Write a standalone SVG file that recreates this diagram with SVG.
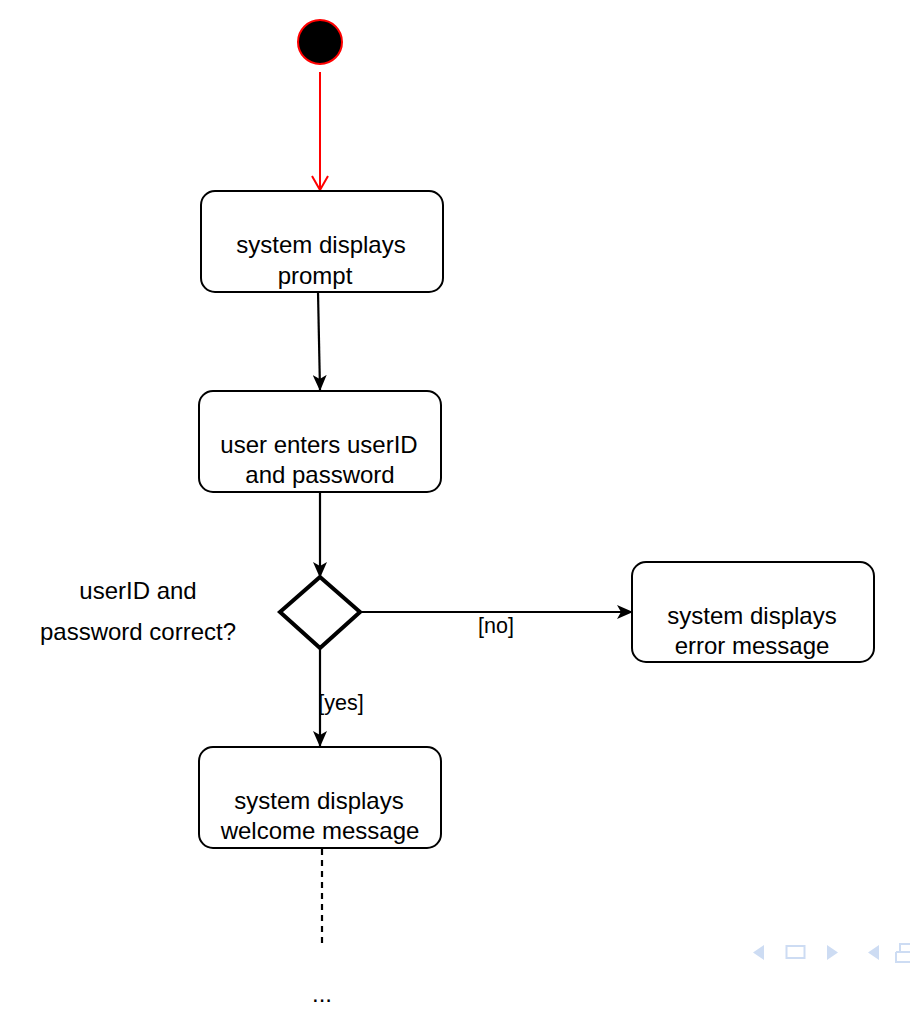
<svg xmlns="http://www.w3.org/2000/svg" width="910" height="1020" viewBox="0 0 910 1020">
<style>
.box{fill:#fff;stroke:#000;stroke-width:2}
.t{font-family:"Liberation Sans",Arial,sans-serif;font-size:24px;fill:#000;text-anchor:middle}
.lbl{font-family:"Liberation Sans",Arial,sans-serif;font-size:21.5px;fill:#000;text-anchor:middle}
.edge{fill:none;stroke:#000;stroke-width:2.2}
.nav{fill:#cddcf3;stroke:none}
</style>
<defs>
<marker id="arr" viewBox="0 0 16 14" refX="15" refY="7" markerWidth="16" markerHeight="14" markerUnits="userSpaceOnUse" orient="auto">
<path d="M0,0 L16,7 L0,14 L4,7 Z" fill="#000"/>
</marker>
<marker id="open" viewBox="0 0 16 20" refX="15" refY="10" markerWidth="16" markerHeight="20" markerUnits="userSpaceOnUse" orient="auto">
<path d="M1,2 L15,10 L1,18" fill="none" stroke="#f00" stroke-width="2"/>
</marker>
</defs>
<rect width="910" height="1020" fill="#fff"/>
<g id="connectors">
<line x1="320" y1="72" x2="320" y2="190" stroke="#f00" stroke-width="2" marker-end="url(#open)"/>
<line class="edge" x1="318" y1="292" x2="320" y2="390" marker-end="url(#arr)"/>
<line class="edge" x1="320" y1="492" x2="320" y2="577" marker-end="url(#arr)"/>
<line class="edge" x1="360" y1="612" x2="632" y2="612" marker-end="url(#arr)"/>
<text class="lbl" x="496" y="633">[no]</text>
<line class="edge" x1="320" y1="648" x2="320" y2="746" marker-end="url(#arr)"/>
<text class="lbl" x="341" y="710">[yes]</text>
<line class="edge" x1="322" y1="849" x2="322" y2="948" stroke-dasharray="6,5"/>
</g>
<g id="start">
<circle cx="320" cy="42" r="22" fill="#000" stroke="#f00" stroke-width="2"/>
</g>
<g id="prompt">
<rect class="box" x="201" y="191" width="242" height="101" rx="14"/>
<text class="t" x="321" y="253">system displays</text>
<text class="t" x="315" y="284">prompt</text>
</g>
<g id="enter">
<rect class="box" x="199" y="391" width="242" height="101" rx="14"/>
<text class="t" x="319" y="453">user enters userID</text>
<text class="t" x="320" y="483">and password</text>
</g>
<g id="decision">
<polygon points="320,577 360,612 320,648 280,612" fill="#fff" stroke="#000" stroke-width="4" stroke-linejoin="miter"/>
<text class="t" x="138" y="599">userID and</text>
<text class="t" x="138" y="640">password correct?</text>
</g>
<g id="error">
<rect class="box" x="632" y="562" width="242" height="100" rx="14"/>
<text class="t" x="752" y="624">system displays</text>
<text class="t" x="752" y="654">error message</text>
</g>
<g id="welcome">
<rect class="box" x="199" y="747" width="242" height="101" rx="14"/>
<text class="t" x="319" y="809">system displays</text>
<text class="t" x="320" y="839">welcome message</text>
</g>
<g id="ellipsis">
<text class="t" x="322" y="1002">...</text>
</g>
<g id="navigation">
<polygon class="nav" points="764,945 764,960 753,952.5"/>
<rect x="786.5" y="946" width="18" height="12" fill="none" stroke="#cddcf3" stroke-width="2"/>
<polygon class="nav" points="827,945 827,960 838,952.5"/>
<polygon class="nav" points="879,945 879,960 868,952.5"/>
<path d="M896,952 L896,962 L910,962 M896,952 L910,952 M900,952 L900,944 L910,944" fill="none" stroke="#cddcf3" stroke-width="2"/>
</g>
</svg>
